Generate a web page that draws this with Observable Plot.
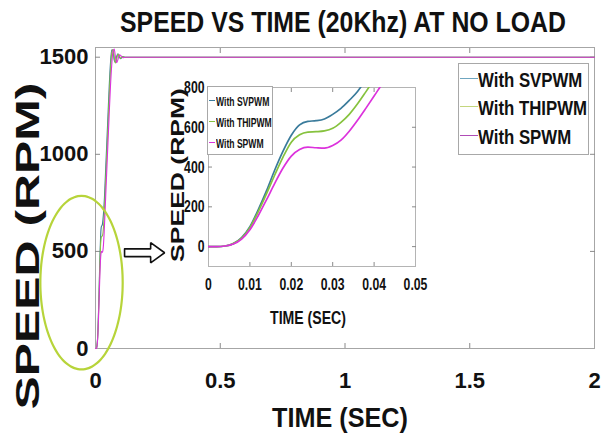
<!DOCTYPE html>
<html><head><meta charset="utf-8">
<script src="https://cdn.jsdelivr.net/npm/d3@7"></script>
<script src="https://cdn.jsdelivr.net/npm/@observablehq/plot@0.6"></script>
<style>
html,body{margin:0;padding:0;background:#fff;}
#wrap{position:relative;width:608px;height:439px;overflow:hidden;font-family:"Liberation Sans",Arial,sans-serif;font-weight:bold;color:#111;}
#wrap svg{position:absolute;overflow:visible;}
.legend{position:absolute;background:#fff;border:1px solid #a8a8a8;box-sizing:border-box;}
.sw{position:absolute;height:0;border-top-style:solid;}
.lab{position:absolute;white-space:nowrap;transform-origin:0 50%;line-height:1;color:#111;}
</style></head><body><div id="wrap"></div>
<script>
// ---------- data ----------
const mainTitle = "SPEED VS TIME (20Khz) AT NO LOAD";
const xLabel = "TIME (SEC)";
const yLabel = "SPEED (RPM)";
const seriesNames = ["With SVPWM", "With THIPWM", "With SPWM"];
const xTicksMain = [0, 0.5, 1, 1.5, 2];
const yTicksMain = [0, 500, 1000, 1500];
const xTicksInset = [0, 0.01, 0.02, 0.03, 0.04, 0.05];
const yTicksInset = [0, 200, 400, 600, 800];
const timeSec = [0, 0.002, 0.004, 0.006, 0.008, 0.010, 0.012, 0.014, 0.016, 0.018, 0.020, 0.022, 0.024, 0.026, 0.028, 0.030, 0.032, 0.034, 0.036, 0.038, 0.040, 0.042, 0.045, 0.050, 0.055, 0.060, 0.065, 0.070, 0.075, 0.080, 0.085, 0.090, 0.095, 0.100, 0.110, 0.120, 0.150, 2.0];
const speedSVPWM = [0, 0, 3, 15, 45, 100, 185, 280, 385, 480, 560, 612, 630, 633, 642, 665, 695, 735, 780, 840, 900, 960, 1050, 1200, 1350, 1470, 1538, 1535, 1485, 1472, 1505, 1518, 1503, 1492, 1503, 1500, 1500, 1500];
const speedTHIPWM = [0, 0, 3, 15, 43, 95, 175, 265, 360, 450, 525, 562, 576, 578, 582, 595, 625, 665, 718, 778, 840, 900, 990, 1140, 1300, 1430, 1520, 1540, 1500, 1470, 1492, 1515, 1510, 1495, 1502, 1500, 1500, 1500];
const speedSPWM = [0, 0, 3, 13, 38, 85, 155, 235, 318, 395, 455, 488, 500, 497, 495, 508, 535, 580, 635, 695, 757, 820, 910, 1060, 1210, 1350, 1460, 1530, 1542, 1500, 1472, 1488, 1512, 1510, 1497, 1500, 1500, 1500];
// annotation (zoom ellipse + arrow) in data units of the main axes
const zoomEllipse = {t: -0.056, v: 339, rt: 0.165, rv: 447};
const zoomArrow = {tail: 0.1165, tip: 0.277, v: 493, headStart: 0.221, shaft: 20, head: 52};

// ---------- styles ----------
const FONT = '"Liberation Sans", Arial, sans-serif';
const lineColors = ["#3a7b9b", "#86c23e", "#dc32dc"];
const legendColors = ["#6fa6c0", "#c4d67e", "#b04cb6"];

const speeds = [speedSVPWM, speedTHIPWM, speedSPWM];
const rows = [];
seriesNames.forEach((s, k) => timeSec.forEach((t, i) => rows.push({series: s, t, v: speeds[k][i]})));

const ellipsePts = d3.range(0, 361, 5).map(a => ({
  t: zoomEllipse.t + zoomEllipse.rt * Math.cos(a * Math.PI / 180),
  v: zoomEllipse.v + zoomEllipse.rv * Math.sin(a * Math.PI / 180)
}));
const A = zoomArrow;
const arrowPts = [
  {t: A.tail, v: A.v + A.shaft}, {t: A.headStart, v: A.v + A.shaft}, {t: A.headStart, v: A.v + A.head},
  {t: A.tip, v: A.v}, {t: A.headStart, v: A.v - A.head}, {t: A.headStart, v: A.v - A.shaft},
  {t: A.tail, v: A.v - A.shaft}, {t: A.tail, v: A.v + A.shaft}
];

const TICK = "#8a8a8a";
const mainSvg = Plot.plot({
  width: 608, height: 439,
  marginLeft: 95, marginRight: 14, marginTop: 47, marginBottom: 91,
  style: {fontFamily: FONT, fontWeight: "bold", fontSize: "22px", color: "#111", background: "transparent", overflow: "visible"},
  x: {domain: [0, 2]},
  y: {domain: [0, 1550]},
  color: {domain: seriesNames, range: lineColors},
  marks: [
    Plot.frame({stroke: "#a6a6a6"}),
    Plot.axisX({anchor: "bottom", ticks: xTicksMain.slice(1, -1), tickSize: -5, tickFormat: () => "", stroke: TICK, label: null}),
    Plot.axisX({anchor: "top", ticks: xTicksMain.slice(1, -1), tickSize: -5, tickFormat: () => "", stroke: TICK, label: null}),
    Plot.axisY({anchor: "left", ticks: yTicksMain.slice(1), tickSize: -5, tickFormat: () => "", stroke: TICK, label: null}),
    Plot.axisY({anchor: "right", ticks: yTicksMain.slice(1), tickSize: -5, tickFormat: () => "", stroke: TICK, label: null}),
    Plot.line(rows, {x: "t", y: "v", z: "series", stroke: "series", strokeWidth: 1.1, curve: "monotone-x"}),
    Plot.axisX({anchor: "bottom", ticks: xTicksMain, tickSize: 0, tickPadding: 24, tickFormat: d => String(d), label: null}),
    Plot.axisY({anchor: "left", ticks: yTicksMain, tickSize: 0, tickPadding: 7, tickFormat: d => String(d), label: null}),
    Plot.text([mainTitle], {text: d => d, frameAnchor: "top", dy: -25, lineAnchor: "middle", fontSize: 29}),
    Plot.text([xLabel], {text: d => d, frameAnchor: "bottom", dy: 70, lineAnchor: "middle", fontSize: 27}),
    Plot.text([yLabel], {text: d => d, frameAnchor: "left", dx: -65, rotate: -90, lineAnchor: "middle", fontSize: 33}),
    Plot.line(ellipsePts, {x: "t", y: "v", stroke: "#b7d43a", strokeWidth: 2.2, curve: "catmull-rom-closed"}),
    Plot.line(arrowPts, {x: "t", y: "v", stroke: "#111", strokeWidth: 1.6, strokeLinejoin: "miter"})
  ]
});

const insetSvg = Plot.plot({
  width: 270, height: 260,
  marginLeft: 48, marginRight: 15, marginTop: 12, marginBottom: 69,
  style: {fontFamily: FONT, fontWeight: "bold", fontSize: "17px", color: "#111", background: "transparent", overflow: "visible"},
  x: {domain: [0, 0.05]},
  y: {domain: [-100, 800]},
  color: {domain: seriesNames, range: lineColors},
  marks: [
    Plot.frame({fill: "white", stroke: "#b4b4b4"}),
    Plot.axisX({anchor: "bottom", ticks: xTicksInset.slice(1, -1), tickSize: -4, tickFormat: () => "", stroke: TICK, label: null}),
    Plot.axisX({anchor: "top", ticks: xTicksInset.slice(1, -1), tickSize: -4, tickFormat: () => "", stroke: TICK, label: null}),
    Plot.axisY({anchor: "left", ticks: yTicksInset.slice(0, -1), tickSize: -4, tickFormat: () => "", stroke: TICK, label: null}),
    Plot.axisY({anchor: "right", ticks: yTicksInset.slice(0, -1), tickSize: -4, tickFormat: () => "", stroke: TICK, label: null}),
    Plot.line(rows, {x: "t", y: "v", z: "series", stroke: "series", strokeWidth: 1.7, curve: "monotone-x", clip: true}),
    Plot.axisX({anchor: "bottom", ticks: xTicksInset, tickSize: 0, tickPadding: 11, tickFormat: d => String(d), label: null}),
    Plot.axisY({anchor: "left", ticks: yTicksInset, tickSize: 0, tickPadding: 4, tickFormat: d => String(d), label: null}),
    Plot.text([xLabel], {text: d => d, frameAnchor: "bottom", dy: 51, lineAnchor: "middle", fontSize: 18}),
    Plot.text([yLabel], {text: d => d, frameAnchor: "left", dx: -31, rotate: -90, lineAnchor: "middle", fontSize: 18})
  ]
});

const wrap = document.getElementById("wrap");
mainSvg.style.left = "0px"; mainSvg.style.top = "0px";
insetSvg.style.left = "160px"; insetSvg.style.top = "75px";
wrap.appendChild(mainSvg);
wrap.appendChild(insetSvg);

// condense axis tick labels
function fit(svg, label, factor) {
  svg.querySelectorAll(`g[aria-label="${label}"] text`).forEach(t => {
    const L = t.getComputedTextLength();
    if (L > 0) { t.setAttribute("textLength", (L * factor).toFixed(1)); t.setAttribute("lengthAdjust", "spacingAndGlyphs"); }
  });
}
fit(insetSvg, "x-axis tick label", 0.72);
fit(insetSvg, "y-axis tick label", 0.72);

// place a text label: centre (cx, cy) in page pixels, length along the text direction
function place(svg, content, cx, cy, len, vertical) {
  const t = [...svg.querySelectorAll('g[aria-label="text"] text')].find(e => e.textContent === content);
  if (!t) return;
  const wr = wrap.getBoundingClientRect();
  let b = t.getBoundingClientRect();
  const natural = vertical ? b.height : b.width;
  const f = len / natural;
  t.setAttribute("transform", (t.getAttribute("transform") || "") + ` scale(${f.toFixed(4)},1)`);
  b = t.getBoundingClientRect();
  const dx = cx - (b.left - wr.left + b.width / 2);
  const dy = cy - (b.top - wr.top + b.height / 2);
  t.setAttribute("transform", `translate(${dx.toFixed(2)},${dy.toFixed(2)}) ` + t.getAttribute("transform"));
}
place(mainSvg, mainTitle, 343, 22.5, 446, false);
place(mainSvg, xLabel, 340, 418, 136, false);
place(mainSvg, yLabel, 28, 246, 327, true);
place(insetSvg, xLabel, 308, 317, 76, false);
place(insetSvg, yLabel, 178, 175, 174, true);

function legend(box, rowsY, swatch, textLeft, fontSize, scale, colors, lineW) {
  const div = document.createElement("div");
  div.className = "legend";
  Object.assign(div.style, {left: box[0] + "px", top: box[1] + "px", width: box[2] + "px", height: box[3] + "px"});
  seriesNames.forEach((name, i) => {
    const sw = document.createElement("div");
    sw.className = "sw";
    Object.assign(sw.style, {left: swatch[0] + "px", width: swatch[1] + "px", top: (rowsY[i] - lineW / 2) + "px", borderTopWidth: lineW + "px", borderTopColor: colors[i]});
    const lab = document.createElement("div");
    lab.className = "lab";
    lab.textContent = name;
    Object.assign(lab.style, {left: textLeft + "px", top: (rowsY[i] - fontSize / 2) + "px", fontSize: fontSize + "px", transform: `scaleX(${scale})`});
    div.appendChild(sw); div.appendChild(lab);
  });
  wrap.appendChild(div);
}
legend([458, 63, 131, 92], [15, 43, 72], [1, 18], 19, 21, 0.8, legendColors, 1.6);
legend([207, 86, 66, 69], [14, 35, 56], [1, 6], 8, 13, 0.66, lineColors, 1.4);
</script></body></html>
